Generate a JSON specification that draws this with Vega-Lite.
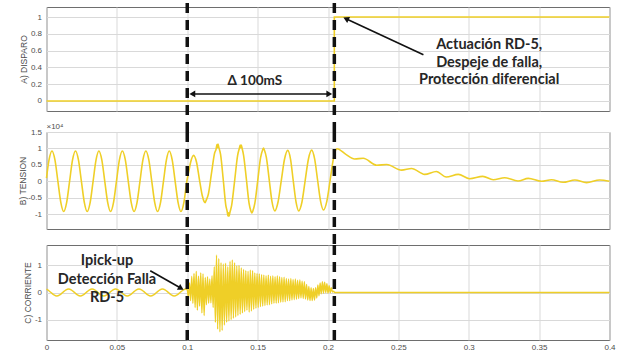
{
  "$schema": "https://vega.github.io/schema/vega-lite/v6.json",
  "padding": {"left": 17.5, "top": 0, "right": 5, "bottom": 0},
  "bounds": "flush",
  "spacing": 21,
  "background": "white",
  "config": {
    "view": {"stroke": "#6e6e6e", "strokeWidth": 1},
    "axis": {"gridColor": "#d9d9d9", "gridWidth": 1, "labelColor": "#4d4d4d", "labelFont": "Liberation Sans", "labelFontSize": 8, "titleColor": "#4d4d4d", "titleFont": "Liberation Sans", "titleFontSize": 8.5, "titleFontWeight": "normal", "domain": false, "ticks": false, "labelFlush": false, "labelOverlap": false, "labelPadding": 5}
  },
  "datasets": {
    "disparo": [{"t": 0, "v": 0}, {"t": 0.2045, "v": 1}, {"t": 0.4, "v": 1}],
    "tension": [
      {"t":0.0000,"v":0.10},{"t":0.0018,"v":0.65},{"t":0.0039,"v":0.92},{"t":0.0060,"v":0.65},{"t":0.0081,"v":0},{"t":0.0102,"v":-0.65},{"t":0.0122,"v":-0.92},{"t":0.0143,"v":-0.65},{"t":0.0164,"v":0},{"t":0.0185,"v":0.65},
      {"t":0.0206,"v":0.92},{"t":0.0227,"v":0.65},{"t":0.0248,"v":0},{"t":0.0269,"v":-0.65},{"t":0.0289,"v":-0.92},{"t":0.0310,"v":-0.65},{"t":0.0331,"v":0},{"t":0.0352,"v":0.65},
      {"t":0.0372,"v":0.92},{"t":0.0393,"v":0.65},{"t":0.0414,"v":0},{"t":0.0435,"v":-0.65},{"t":0.0455,"v":-0.92},{"t":0.0476,"v":-0.65},{"t":0.0497,"v":0},{"t":0.0518,"v":0.65},
      {"t":0.0539,"v":0.92},{"t":0.0560,"v":0.65},{"t":0.0581,"v":0},{"t":0.0602,"v":-0.65},{"t":0.0622,"v":-0.92},{"t":0.0643,"v":-0.65},{"t":0.0664,"v":0},{"t":0.0685,"v":0.65},
      {"t":0.0706,"v":0.92},{"t":0.0727,"v":0.65},{"t":0.0748,"v":0},{"t":0.0769,"v":-0.65},{"t":0.0789,"v":-0.92},{"t":0.0810,"v":-0.65},{"t":0.0831,"v":0},{"t":0.0852,"v":0.65},
      {"t":0.0872,"v":0.92},{"t":0.0893,"v":0.65},{"t":0.0914,"v":0},{"t":0.0935,"v":-0.65},{"t":0.0955,"v":-0.92},{"t":0.0976,"v":-0.65},{"t":0.0997,"v":0},
      {"t":0.1010,"v":0.28},{"t":0.1024,"v":0.58},{"t":0.1045,"v":0.79},{"t":0.1066,"v":0.58},{"t":0.1086,"v":0.07},{"t":0.1107,"v":-0.44},{"t":0.1120,"v":-0.62},{"t":0.1127,"v":-0.65},{"t":0.1134,"v":-0.58},
      {"t":0.1150,"v":-0.39},{"t":0.1172,"v":0.24},{"t":0.1195,"v":0.87},{"t":0.1205,"v":0.98},{"t":0.1211,"v":1.12},{"t":0.1215,"v":1.02},{"t":0.1218,"v":1.13},{"t":0.1224,"v":1.04},
      {"t":0.1237,"v":0.81},{"t":0.1256,"v":0.04},{"t":0.1274,"v":-0.73},{"t":0.1284,"v":-0.92},{"t":0.1289,"v":-1.05},{"t":0.1293,"v":-0.96},{"t":0.1297,"v":-1.06},{"t":0.1303,"v":-0.95},
      {"t":0.1315,"v":-0.74},{"t":0.1337,"v":0.03},{"t":0.1358,"v":0.79},{"t":0.1370,"v":1.00},{"t":0.1376,"v":1.10},{"t":0.1380,"v":1.02},{"t":0.1384,"v":1.10},{"t":0.1390,"v":1.00},
      {"t":0.1400,"v":0.80},{"t":0.1420,"v":0.07},{"t":0.1439,"v":-0.66},{"t":0.1452,"v":-0.90},{"t":0.1459,"v":-0.96},{"t":0.1466,"v":-0.90},{"t":0.1480,"v":-0.67},{"t":0.1501,"v":0.03},
      {"t":0.1521,"v":0.72},{"t":0.1536,"v":0.96},{"t":0.1542,"v":1.01},{"t":0.1548,"v":0.95},{"t":0.1562,"v":0.73},{"t":0.1582,"v":0.06},{"t":0.1602,"v":-0.62},{"t":0.1622,"v":-0.90},
      {"t":0.1645,"v":-0.63},{"t":0.1668,"v":0.02},{"t":0.1691,"v":0.67},{"t":0.1714,"v":0.94},{"t":0.1734,"v":0.67},{"t":0.1753,"v":0.02},{"t":0.1773,"v":-0.63},{"t":0.1792,"v":-0.90},
      {"t":0.1815,"v":-0.63},{"t":0.1838,"v":0.03},{"t":0.1861,"v":0.68},{"t":0.1884,"v":0.95},{"t":0.1905,"v":0.68},{"t":0.1926,"v":0.04},{"t":0.1947,"v":-0.60},{"t":0.1968,"v":-0.87},
      {"t":0.1992,"v":-0.60},{"t":0.2016,"v":0.06},{"t":0.2040,"v":0.72},{"t":0.2064,"v":0.99},
      {"t":0.2127,"v":0.82},{"t":0.2189,"v":0.68},{"t":0.2250,"v":0.70},{"t":0.2346,"v":0.49},{"t":0.2417,"v":0.51},{"t":0.2523,"v":0.34},{"t":0.2594,"v":0.39},{"t":0.2687,"v":0.21},
      {"t":0.2770,"v":0.30},{"t":0.2840,"v":0.13},{"t":0.2926,"v":0.21},{"t":0.3006,"v":0.08},{"t":0.3100,"v":0.15},{"t":0.3174,"v":0.05},{"t":0.3255,"v":0.11},{"t":0.3350,"v":0.01},
      {"t":0.3423,"v":0.09},{"t":0.3517,"v":0.00},{"t":0.3588,"v":0.05},{"t":0.3670,"v":-0.03},{"t":0.3754,"v":0.04},{"t":0.3837,"v":-0.04},{"t":0.3930,"v":0.04},{"t":0.4000,"v":0.00}
    ],
    "corriente": [
      {"t":0.0000,"v":0.125},{"t":0.0011,"v":0.09},{"t":0.0032,"v":0},{"t":0.0053,"v":-0.09},{"t":0.0073,"v":-0.13},{"t":0.0094,"v":-0.09},{"t":0.0115,"v":0},{"t":0.0136,"v":0.09},
      {"t":0.0157,"v":0.13},{"t":0.0178,"v":0.09},{"t":0.0199,"v":0},{"t":0.0220,"v":-0.09},{"t":0.0240,"v":-0.13},{"t":0.0261,"v":-0.09},{"t":0.0282,"v":0},{"t":0.0303,"v":0.09},
      {"t":0.0324,"v":0.13},{"t":0.0345,"v":0.09},{"t":0.0366,"v":0},{"t":0.0387,"v":-0.09},{"t":0.0407,"v":-0.13},{"t":0.0428,"v":-0.09},{"t":0.0449,"v":0},{"t":0.0470,"v":0.09},
      {"t":0.0490,"v":0.13},{"t":0.0511,"v":0.09},{"t":0.0532,"v":0},{"t":0.0553,"v":-0.09},{"t":0.0573,"v":-0.13},{"t":0.0594,"v":-0.09},{"t":0.0615,"v":0},{"t":0.0636,"v":0.09},
      {"t":0.0657,"v":0.13},{"t":0.0678,"v":0.09},{"t":0.0699,"v":0},{"t":0.0720,"v":-0.09},{"t":0.0740,"v":-0.13},{"t":0.0761,"v":-0.09},{"t":0.0782,"v":0},{"t":0.0803,"v":0.09},
      {"t":0.0824,"v":0.13},{"t":0.0845,"v":0.09},{"t":0.0866,"v":0},{"t":0.0887,"v":-0.09},{"t":0.0907,"v":-0.13},{"t":0.0928,"v":-0.09},{"t":0.0949,"v":0},{"t":0.0970,"v":0.09},{"t":0.0990,"v":0.13},
      {"t":0.1000,"v":0.10},{"t":0.1008,"v":-0.15},{"t":0.1016,"v":0.35},{"t":0.1024,"v":-0.30},{"t":0.1032,"v":0.60},{"t":0.1040,"v":-0.40},{"t":0.1048,"v":0.70},{"t":0.1056,"v":-0.55},
      {"t":0.1064,"v":0.78},{"t":0.1072,"v":-0.65},{"t":0.1080,"v":0.60},{"t":0.1088,"v":-0.50},{"t":0.1096,"v":0.72},{"t":0.1104,"v":-0.75},{"t":0.1112,"v":0.68},{"t":0.1120,"v":-0.85},
      {"t":0.1128,"v":0.55},{"t":0.1136,"v":-0.45},{"t":0.1144,"v":0.58},{"t":0.1152,"v":-0.40},{"t":0.1160,"v":0.50},{"t":0.1168,"v":-0.38},{"t":0.1176,"v":0.62},{"t":0.1184,"v":-0.55},
      {"t":0.1192,"v":0.95},{"t":0.1200,"v":-1.10},{"t":0.1208,"v":1.38},{"t":0.1216,"v":-1.35},{"t":0.1224,"v":1.25},{"t":0.1232,"v":-1.45},{"t":0.1240,"v":1.10},{"t":0.1248,"v":-1.40},
      {"t":0.1256,"v":1.05},{"t":0.1264,"v":-1.20},{"t":0.1272,"v":1.08},{"t":0.1280,"v":-1.10},{"t":0.1288,"v":0.95},{"t":0.1296,"v":-1.05},{"t":0.1304,"v":1.15},{"t":0.1312,"v":-1.00},
      {"t":0.1320,"v":1.20},{"t":0.1328,"v":-0.95},{"t":0.1336,"v":1.10},{"t":0.1344,"v":-0.90},{"t":0.1352,"v":0.98},{"t":0.1360,"v":-0.85},{"t":0.1368,"v":1.00},{"t":0.1376,"v":-0.80},
      {"t":0.1384,"v":0.90},{"t":0.1392,"v":-0.75},{"t":0.1400,"v":0.85},{"t":0.1408,"v":-0.70},{"t":0.1416,"v":0.80},{"t":0.1424,"v":-0.65},{"t":0.1432,"v":0.78},{"t":0.1440,"v":-0.72},
      {"t":0.1448,"v":0.82},{"t":0.1456,"v":-0.68},{"t":0.1464,"v":0.80},{"t":0.1472,"v":-0.62},{"t":0.1480,"v":0.72},{"t":0.1488,"v":-0.58},{"t":0.1496,"v":0.70},{"t":0.1504,"v":-0.55},
      {"t":0.1512,"v":0.68},{"t":0.1520,"v":-0.52},{"t":0.1528,"v":0.66},{"t":0.1536,"v":-0.50},{"t":0.1544,"v":0.64},{"t":0.1552,"v":-0.48},{"t":0.1560,"v":0.62},{"t":0.1568,"v":-0.46},
      {"t":0.1576,"v":0.64},{"t":0.1584,"v":-0.45},{"t":0.1592,"v":0.60},{"t":0.1600,"v":-0.42},{"t":0.1608,"v":0.62},{"t":0.1616,"v":-0.40},{"t":0.1624,"v":0.58},{"t":0.1632,"v":-0.40},
      {"t":0.1640,"v":0.62},{"t":0.1648,"v":-0.38},{"t":0.1656,"v":0.58},{"t":0.1664,"v":-0.36},{"t":0.1672,"v":0.55},{"t":0.1680,"v":-0.35},{"t":0.1688,"v":0.56},{"t":0.1696,"v":-0.34},
      {"t":0.1704,"v":0.52},{"t":0.1712,"v":-0.30},{"t":0.1720,"v":0.50},{"t":0.1728,"v":-0.30},{"t":0.1736,"v":0.52},{"t":0.1744,"v":-0.28},{"t":0.1752,"v":0.48},{"t":0.1760,"v":-0.26},
      {"t":0.1768,"v":0.50},{"t":0.1776,"v":-0.25},{"t":0.1784,"v":0.45},{"t":0.1792,"v":-0.22},{"t":0.1800,"v":0.46},{"t":0.1808,"v":-0.20},{"t":0.1816,"v":0.42},{"t":0.1824,"v":-0.22},
      {"t":0.1832,"v":0.40},{"t":0.1840,"v":-0.24},{"t":0.1848,"v":0.30},{"t":0.1856,"v":-0.28},{"t":0.1864,"v":0.22},{"t":0.1872,"v":-0.30},{"t":0.1880,"v":0.18},{"t":0.1888,"v":-0.30},
      {"t":0.1896,"v":0.15},{"t":0.1904,"v":-0.28},{"t":0.1912,"v":0.18},{"t":0.1920,"v":-0.20},{"t":0.1928,"v":0.28},{"t":0.1936,"v":-0.12},{"t":0.1944,"v":0.35},{"t":0.1952,"v":-0.05},
      {"t":0.1960,"v":0.40},{"t":0.1968,"v":-0.02},{"t":0.1976,"v":0.38},{"t":0.1984,"v":0.00},{"t":0.1992,"v":0.32},{"t":0.2000,"v":-0.02},{"t":0.2008,"v":0.25},{"t":0.2016,"v":0.00},
      {"t":0.2024,"v":0.18},{"t":0.2032,"v":0.02},{"t":0.2040,"v":0.05},{"t":0.2048,"v":0.0},{"t":0.4000,"v":0.0}
    ]
  },
  "vconcat": [
    {
      "width": 563, "height": 104,
      "encoding": {
        "x": {"field": "t", "type": "quantitative", "scale": {"domain": [0, 0.4], "nice": false, "zero": false}, "axis": {"values": [0, 0.05, 0.1, 0.15, 0.2, 0.25, 0.3, 0.35, 0.4], "labels": false, "title": null}},
        "y": {"field": "v", "type": "quantitative", "scale": {"domain": [-0.12, 1.12], "nice": false, "zero": false}, "axis": {"values": [0, 0.2, 0.4, 0.6, 0.8, 1], "format": "~g", "title": "A) DISPARO", "titleX": -23, "titleY": 52, "titleAngle": -90, "titleAlign": "center", "titleBaseline": "middle"}}
      },
      "layer": [
        {"data": {"name": "disparo"}, "mark": {"type": "line", "interpolate": "step-after", "color": "#EFCF27", "strokeWidth": 1.6}},
        {"data": {"values": [{"t": 0.1, "v": 1.168, "v2": -0.37}, {"t": 0.2045, "v": 1.168, "v2": -0.37}]}, "mark": {"type": "rule", "color": "#111111", "strokeWidth": 3.5, "strokeDash": [10, 7]},
         "encoding": {"y2": {"field": "v2"}}},
        {"data": {"values": [{"t": 0.1034, "v": 0.083, "t2": 0.2011}]}, "mark": {"type": "rule", "color": "#111111", "strokeWidth": 1.6},
         "encoding": {"x2": {"field": "t2"}}},
        {"data": {"values": [{"t": 0.1036, "v": 0.083}]}, "mark": {"type": "point", "shape": "triangle-left", "filled": true, "color": "#111111", "size": 45, "opacity": 1}},
        {"data": {"values": [{"t": 0.2009, "v": 0.083}]}, "mark": {"type": "point", "shape": "triangle-right", "filled": true, "color": "#111111", "size": 45, "opacity": 1}},
        {"data": {"values": [{"t": 0.2678, "v": 0.551, "t2": 0.2128, "v2": 0.98}]}, "mark": {"type": "rule", "color": "#111111", "strokeWidth": 1.6},
         "encoding": {"x2": {"field": "t2"}, "y2": {"field": "v2"}}},
        {"data": {"values": [{"t": 0.2128, "v": 0.98}]}, "mark": {"type": "point", "shape": "triangle-up", "filled": true, "color": "#111111", "size": 45, "angle": 295, "opacity": 1}},
        {"data": {"values": [{"t": 0.148, "v": 0.234, "label": "Δ 100mS"}]},
         "mark": {"type": "text", "font": "Lato", "fontWeight": "bold", "fontSize": 13.5, "color": "#262626", "align": "center", "baseline": "middle"},
         "encoding": {"text": {"field": "label"}}},
        {"data": {"values": [{"t": 0.3145, "v": 0.670, "label": "Actuación RD-5,"}, {"t": 0.3145, "v": 0.452, "label": "Despeje de falla,"}, {"t": 0.3145, "v": 0.247, "label": "Protección diferencial"}]},
         "mark": {"type": "text", "font": "Lato", "fontWeight": "bold", "fontSize": 14.5, "color": "#262626", "align": "center", "baseline": "middle"},
         "encoding": {"text": {"field": "label"}}}
      ]
    },
    {
      "bounds": "flush",
      "spacing": 16,
      "vconcat": [
        {
          "width": 563, "height": 97,
          "encoding": {
            "x": {"field": "t", "type": "quantitative", "scale": {"domain": [0, 0.4], "nice": false, "zero": false}, "axis": {"values": [0, 0.05, 0.1, 0.15, 0.2, 0.25, 0.3, 0.35, 0.4], "labels": false, "title": null}},
            "y": {"field": "v", "type": "quantitative", "scale": {"domain": [-1.45, 1.5], "nice": false, "zero": false}, "axis": {"values": [-1, -0.5, 0, 0.5, 1, 1.5], "format": "~g", "labelExpr": "replace(datum.label, '−', '-')", "title": "B) TENSION", "titleX": -24.5, "titleY": 48.5, "titleAngle": -90, "titleAlign": "center", "titleBaseline": "middle"}}
          },
          "layer": [
            {"data": {"name": "tension"}, "mark": {"type": "line", "interpolate": "monotone", "color": "#EFCF27", "strokeWidth": 1.6}},
            {"data": {"values": [{"t": 0.1, "v": 1.5, "v2": -1.94}, {"t": 0.2045, "v": 1.5, "v2": -1.94}]}, "mark": {"type": "rule", "color": "#111111", "strokeWidth": 3.5, "strokeDash": [10, 7]},
             "encoding": {"y2": {"field": "v2"}}},
            {"data": {"values": [{"t": 0, "v": 1.5, "label": "×10⁴"}]}, "mark": {"type": "text", "font": "Liberation Sans", "fontSize": 8, "color": "#4d4d4d", "align": "left", "baseline": "bottom", "dy": -1},
             "encoding": {"text": {"field": "label"}}}
          ]
        },
        {
          "width": 563, "height": 95,
          "encoding": {
            "x": {"field": "t", "type": "quantitative", "scale": {"domain": [0, 0.4], "nice": false, "zero": false}, "axis": {"values": [0, 0.05, 0.1, 0.15, 0.2, 0.25, 0.3, 0.35, 0.4], "format": "~g", "title": null, "labelPadding": 3}},
            "y": {"field": "v", "type": "quantitative", "scale": {"domain": [-1.75, 1.75], "nice": false, "zero": false}, "axis": {"values": [-1, 0, 1], "format": "~g", "labelExpr": "replace(datum.label, '−', '-')", "title": "C) CORRIENTE", "titleX": -19.5, "titleY": 47.5, "titleAngle": -90, "titleAlign": "center", "titleBaseline": "middle"}}
          },
          "layer": [
            {"data": {"name": "corriente"}, "mark": {"type": "line", "interpolate": "monotone", "color": "#EFCF27", "strokeWidth": 1.4}},
            {"data": {"values": [{"t": 0.1, "v": 1.75, "v2": -1.75}, {"t": 0.2045, "v": 1.75, "v2": -1.75}]}, "mark": {"type": "rule", "color": "#111111", "strokeWidth": 3.5, "strokeDash": [10, 7]},
             "encoding": {"y2": {"field": "v2"}}},
            {"data": {"values": [{"t": 0.0737, "v": 0.80, "t2": 0.0956, "v2": 0.155}]}, "mark": {"type": "rule", "color": "#111111", "strokeWidth": 1.6},
             "encoding": {"x2": {"field": "t2"}, "y2": {"field": "v2"}}},
            {"data": {"values": [{"t": 0.0956, "v": 0.155}]}, "mark": {"type": "point", "shape": "triangle-up", "filled": true, "color": "#111111", "size": 45, "angle": 120, "opacity": 1}},
            {"data": {"values": [{"t": 0.043, "v": 1.15, "label": "Ipick-up"}, {"t": 0.043, "v": 0.47, "label": "Detección Falla"}, {"t": 0.043, "v": -0.20, "label": "RD-5"}]},
             "mark": {"type": "text", "font": "Lato", "fontWeight": "bold", "fontSize": 14.5, "color": "#262626", "align": "center", "baseline": "middle"},
             "encoding": {"text": {"field": "label"}}}
          ]
        }
      ]
    }
  ]
}
